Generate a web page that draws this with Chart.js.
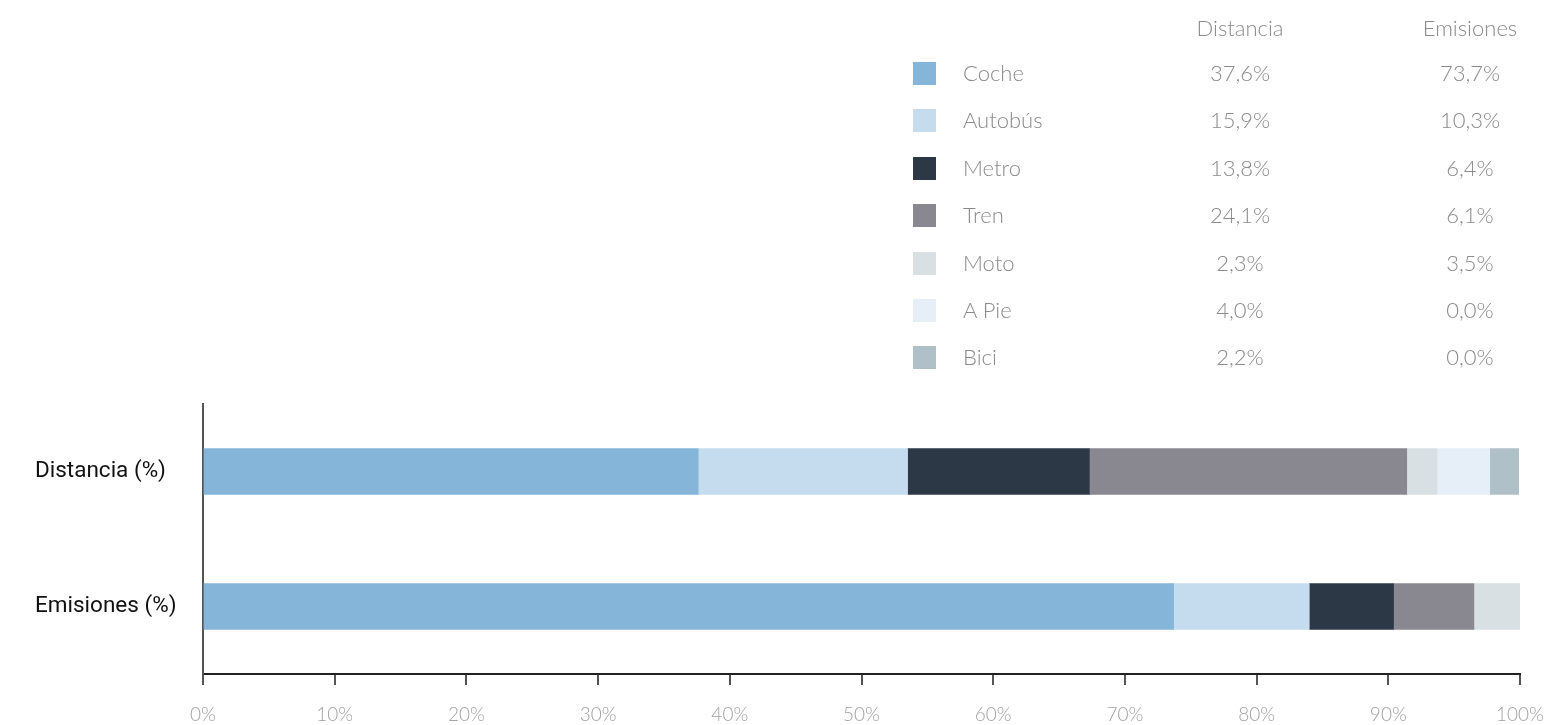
<!DOCTYPE html>
<html>
<head>
<meta charset="utf-8">
<script src="https://cdn.jsdelivr.net/npm/chart.js@4"></script>
<style>
  html, body { margin: 0; padding: 0; background: #fff; }
  body { width: 1544px; height: 725px; position: relative; overflow: hidden; }
  #chartWrap { position: absolute; left: 0; top: 0; width: 1544px; height: 725px; }
  .legend { position: absolute; left: 0; top: 0; font-family: "Lato", sans-serif; font-weight: 300; color: #8a8a8a; font-size: 22px; }
  .legend div { position: absolute; white-space: nowrap; }
  .swatch { width: 23px; height: 23px; }
  .num { transform: translateX(-50%); }
</style>
</head>
<body>
<div id="chartWrap"><canvas id="modalChart"></canvas></div>
<div class="legend" id="legendTable"></div>

<script>
// ================== DATA ===================
const categories = ["Distancia (%)", "Emisiones (%)"];
const columnTitles = ["Distancia", "Emisiones"];
const modes = ["Coche", "Autobús", "Metro", "Tren", "Moto", "A Pie", "Bici"];
const distanceValues = [37.6, 15.9, 13.8, 24.1, 2.3, 4.0, 2.2];
const emissionValues = [73.7, 10.3, 6.4, 6.1, 3.5, 0.0, 0.0];
const modeColors = ["#85b6da", "#c5dbee", "#2d3847", "#898891", "#d9e0e3", "#e6eff8", "#b0c0c8"];
const xTicks = [0, 10, 20, 30, 40, 50, 60, 70, 80, 90, 100];

function formatPct(v) {
  return v.toFixed(1).replace(".", ",") + "%";
}

// ================== LEGEND TABLE ===================
function renderLegendTable() {
  const box = document.getElementById("legendTable");
  const rowTop = 62, rowStep = 47.4;
  const colX = [1240, 1470];
  let html = "";

  columnTitles.forEach((t, i) => {
    html += '<div class="num" style="left:' + colX[i] + 'px;top:14px">' + t + '</div>';
  });

  modes.forEach((m, i) => {
    const top = rowTop + i * rowStep;
    html += '<div class="swatch" style="left:913px;top:' + top + 'px;background:' + modeColors[i] + '"></div>';
    html += '<div style="left:963px;top:' + (top - 3) + 'px">' + m + '</div>';
    html += '<div class="num" style="left:' + colX[0] + 'px;top:' + (top - 3) + 'px">' + formatPct(distanceValues[i]) + '</div>';
    html += '<div class="num" style="left:' + colX[1] + 'px;top:' + (top - 3) + 'px">' + formatPct(emissionValues[i]) + '</div>';
  });

  box.innerHTML = html;
}

// ================== CHART ===================
function renderChart() {
  const ctx = document.getElementById("modalChart").getContext("2d");

  const datasets = modes.map((m, i) => ({
    label: m,
    data: [distanceValues[i], emissionValues[i]],
    backgroundColor: modeColors[i],
    borderWidth: 0,
    barThickness: 46
  }));

  new Chart(ctx, {
    type: "bar",
    data: { labels: categories, datasets },
    options: {
      indexAxis: "y",
      responsive: true,
      maintainAspectRatio: false,
      animation: false,
      layout: { padding: { left: 35, right: 24, top: 404, bottom: 0 } },
      plugins: { legend: { display: false }, tooltip: { enabled: false } },
      scales: {
        x: {
          stacked: true,
          min: 0,
          max: 100,
          afterFit: scale => {
            scale.height = 51;
            scale.paddingLeft = 0;
            scale.paddingRight = 0;
          },
          afterBuildTicks: scale => { scale.ticks = xTicks.map(v => ({ value: v })); },
          grid: { drawOnChartArea: false, color: "#555", lineWidth: 2, tickLength: 11 },
          border: { color: "#222", width: 2 },
          ticks: {
            padding: 18,
            color: "#a2a2a2",
            font: { family: "Lato", weight: 300, size: 19 },
            maxRotation: 0,
            callback: v => v + "%"
          }
        },
        y: {
          stacked: true,
          afterFit: scale => { scale.width = 168; },
          grid: { display: false },
          border: { color: "#555", width: 2 },
          ticks: {
            crossAlign: "far",
            color: "#111",
            font: { family: "Roboto", size: 22.5 }
          }
        }
      }
    }
  });
}

renderLegendTable();
renderChart();
</script>
</body>
</html>
